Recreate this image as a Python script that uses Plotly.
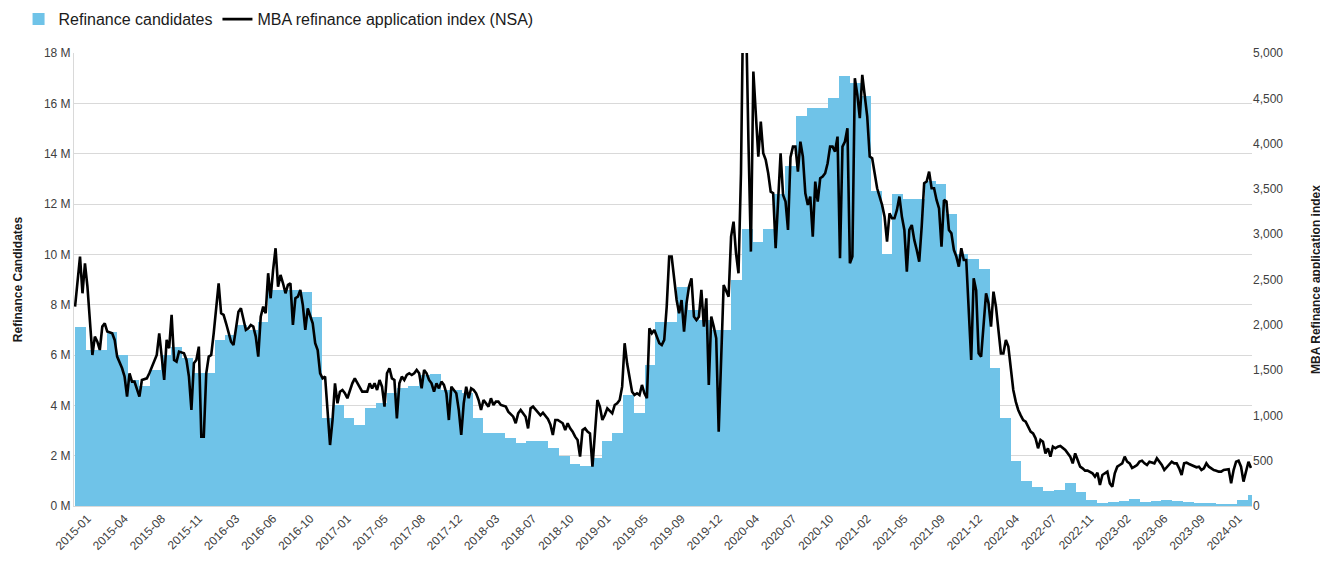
import datetime as dt
import pandas as pd
import plotly.graph_objects as go

# ---------------- data ----------------
# Refinance candidates, millions, monthly (Jan 2015 .. Feb 2024)
candidate_start = "2015-01-01"
candidates_m = [
    7.1, 6.2, 6.2, 6.9, 6.0, 5.0, 4.75, 5.4, 6.0, 6.3, 5.9, 5.3,      # 2015
    5.3, 6.6, 6.8, 7.2, 7.0, 7.3, 8.6, 8.6, 8.6, 8.5, 7.5, 3.5,       # 2016
    4.0, 3.5, 3.2, 3.9, 4.1, 4.5, 4.7, 4.75, 5.2, 5.25, 4.6, 4.6,     # 2017
    4.5, 3.5, 2.9, 2.9, 2.7, 2.5, 2.6, 2.6, 2.3, 2.0, 1.65, 1.6,      # 2018
    1.9, 2.6, 2.9, 4.4, 3.7, 5.6, 7.3, 7.3, 8.7, 7.8, 7.4, 7.0,       # 2019
    7.0, 9.0, 11.0, 10.5, 11.0, 12.4, 13.5, 15.5, 15.8, 15.8, 16.2, 17.1,  # 2020
    16.8, 16.3, 12.5, 10.0, 12.4, 12.2, 12.2, 12.9, 12.8, 11.6, 10.0, 9.8,  # 2021
    9.4, 5.5, 3.5, 1.8, 1.0, 0.75, 0.6, 0.64, 0.9, 0.55, 0.25, 0.12,  # 2022
    0.17, 0.18, 0.26, 0.15, 0.2, 0.24, 0.2, 0.17, 0.12, 0.1, 0.07, 0.07,  # 2023
    0.25, 0.45,                                                       # 2024
]

# MBA refinance application index (NSA), weekly: (week number since 2015-01-02, index)
mba_start = dt.date(2015, 1, 2)
mba_readings = [
    (0, 2200), (2, 2753), (3, 2348), (4, 2679), (5, 2421), (6, 2017), (7, 1667), (8, 1870),
    (9, 1814), (10, 1722), (11, 1980), (12, 2017), (13, 1925), (15, 1906), (16, 1833), (17, 1649),
    (18, 1593), (19, 1520), (20, 1428), (21, 1207), (22, 1465), (23, 1373), (24, 1373), (25, 1299),
    (26, 1207), (27, 1391), (29, 1409), (30, 1465), (31, 1538), (32, 1612), (33, 1667), (34, 1906),
    (35, 1612), (36, 1391), (37, 1833), (38, 1741), (39, 2109), (40, 1612), (41, 1593), (42, 1704),
    (44, 1685), (45, 1612), (46, 1428), (47, 1060), (48, 1575), (49, 1612), (50, 1759), (51, 765),
    (52, 765), (53, 1465), (54, 1649), (55, 1667), (56, 1906), (57, 2200), (58, 2458), (59, 2127),
    (60, 2109), (61, 2017), (62, 1906), (63, 1814), (64, 1777), (65, 1943), (66, 2145), (67, 2182),
    (68, 2053), (69, 1943), (70, 1961), (71, 1998), (72, 1980), (73, 1870), (74, 1649), (75, 2090),
    (76, 2200), (77, 2127), (78, 2569), (79, 2293), (80, 2605), (81, 2845), (82, 2421), (83, 2550),
    (84, 2458), (85, 2348), (86, 2440), (87, 2458), (88, 1998), (89, 2293), (90, 2311), (91, 2385),
    (92, 2219), (93, 1943), (94, 2180), (95, 2090), (96, 2017), (97, 1796), (98, 1722), (99, 1465),
    (100, 1409), (101, 1428), (102, 1097), (103, 673), (104, 949), (105, 1354), (106, 1133), (107, 1262),
    (108, 1281), (109, 1244), (110, 1189), (112, 1354), (113, 1409), (114, 1354), (115, 1299), (116, 1262),
    (118, 1262), (119, 1354), (120, 1299), (121, 1354), (122, 1281), (123, 1391), (124, 1317), (125, 1097),
    (126, 1465), (127, 1520), (128, 1409), (129, 1391), (130, 968), (131, 1354), (132, 1428), (133, 1391),
    (134, 1446), (135, 1465), (136, 1446), (137, 1465), (138, 1502), (139, 1465), (140, 1299), (141, 1502),
    (142, 1465), (143, 1391), (144, 1354), (145, 1262), (146, 1354), (147, 1299), (148, 1373), (149, 1336),
    (150, 1244), (151, 949), (152, 1317), (153, 1281), (154, 1244), (155, 1060), (156, 784), (157, 1133),
    (158, 1317), (159, 1189), (160, 1299), (161, 1281), (162, 1244), (163, 1170), (164, 1060), (165, 1170),
    (166, 1133), (167, 1097), (168, 1189), (169, 1115), (170, 1152), (171, 1152), (172, 1115), (174, 1097),
    (175, 1041), (177, 986), (178, 913), (179, 1023), (180, 1060), (181, 1023), (182, 986), (183, 857),
    (184, 1078), (185, 1097), (186, 1060), (187, 1023), (188, 1000), (189, 1030), (190, 990), (191, 960),
    (192, 900), (193, 784), (194, 949), (195, 949), (197, 913), (198, 839), (199, 913), (200, 857),
    (201, 821), (202, 765), (203, 729), (204, 545), (205, 839), (206, 857), (207, 821), (208, 802),
    (209, 434), (210, 802), (211, 1170), (212, 1097), (213, 949), (214, 1005), (215, 1078), (217, 1023),
    (218, 1115), (219, 1133), (220, 1170), (221, 1317), (222, 1796), (223, 1575), (224, 1428), (225, 1262),
    (226, 1225), (227, 1244), (228, 1225), (229, 1336), (230, 1244), (231, 1189), (232, 1961), (233, 1906),
    (234, 1943), (235, 1870), (236, 1796), (237, 1777), (238, 1833), (239, 2200), (240, 2753), (241, 2753),
    (242, 2495), (243, 2274), (244, 2127), (245, 2274), (246, 1925), (247, 2237), (248, 2421), (249, 2513),
    (250, 2090), (251, 2053), (252, 2090), (253, 2385), (254, 1980), (255, 2293), (256, 1336), (257, 2090),
    (258, 1980), (259, 1851), (260, 821), (261, 1538), (262, 2440), (264, 2311), (265, 2973), (266, 3139),
    (267, 2789), (268, 2569), (269, 3673), (270, 5800), (271, 5500), (272, 4040), (273, 2808), (274, 4795),
    (275, 4335), (276, 3857), (277, 4243), (278, 3893), (279, 3820), (280, 3673), (281, 3470), (282, 3452),
    (283, 2845), (284, 3415), (285, 3893), (286, 3433), (287, 3360), (288, 3047), (289, 3850), (290, 3967),
    (291, 3967), (292, 3691), (293, 4022), (294, 3857), (295, 3452), (296, 3323), (297, 3415), (298, 2973),
    (299, 3581), (300, 3360), (301, 3617), (302, 3636), (303, 3673), (304, 3783), (305, 3967), (306, 3967),
    (307, 3912), (308, 4077), (309, 2734), (310, 3967), (311, 4022), (312, 4169), (313, 2679), (314, 2753),
    (315, 4721), (316, 4537), (317, 4280), (318, 4758), (319, 4519), (320, 4298), (321, 3857), (322, 3838),
    (323, 3673), (324, 3507), (326, 3323), (327, 3194), (328, 2918), (329, 3231), (330, 3176), (331, 3176),
    (332, 3268), (333, 3415), (334, 3194), (335, 3047), (336, 2587), (337, 3047), (338, 3102), (339, 2937),
    (340, 2826), (341, 2697), (342, 3084), (343, 3562), (344, 3581), (345, 3691), (346, 3507), (347, 3507),
    (348, 3378), (349, 3286), (350, 2863), (351, 3378), (352, 3360), (353, 3047), (354, 3010), (355, 2826),
    (356, 2753), (357, 2642), (358, 2845), (359, 2716), (360, 2716), (362, 1612), (363, 2513), (364, 2380),
    (365, 1685), (366, 1649), (368, 2348), (369, 2237), (370, 1980), (371, 2366), (372, 2200), (373, 1943),
    (374, 1685), (375, 1685), (376, 1833), (377, 1759), (378, 1502), (379, 1281), (380, 1152), (381, 1060),
    (382, 1000), (383, 949), (384, 931), (385, 880), (386, 821), (387, 802), (388, 747), (389, 637),
    (390, 729), (391, 710), (392, 581), (393, 637), (394, 545), (395, 655), (396, 637), (397, 655),
    (398, 662), (400, 618), (401, 581), (402, 545), (403, 471), (404, 581), (405, 508), (406, 434),
    (407, 416), (408, 390), (409, 390), (410, 379), (411, 361), (412, 324), (413, 368), (414, 232),
    (415, 342), (416, 361), (417, 379), (418, 250), (419, 213), (420, 361), (421, 434), (422, 453),
    (423, 471), (424, 545), (425, 489), (426, 471), (427, 420), (428, 434), (429, 453), (430, 490),
    (431, 500), (432, 471), (433, 453), (434, 489), (436, 471), (437, 526), (438, 489), (439, 453),
    (440, 397), (442, 453), (443, 489), (444, 471), (445, 471), (446, 416), (447, 342), (448, 471),
    (449, 478), (450, 464), (451, 453), (452, 442), (453, 427), (454, 434), (455, 397), (456, 416),
    (457, 471), (458, 434), (459, 416), (460, 397), (461, 390), (462, 379), (463, 379), (464, 397),
    (466, 405), (467, 250), (468, 397), (469, 489), (470, 500), (471, 434), (472, 269), (473, 397),
    (474, 489), (475, 420),
]
mba_week = [w for w, _ in mba_readings]
mba_index = [v for _, v in mba_readings]

# x-axis tick labels (one every 15 weeks, from week 5)
tick_labels = [
    "2015-01", "2015-04", "2015-08", "2015-11", "2016-03", "2016-06", "2016-10", "2017-01",
    "2017-05", "2017-08", "2017-12", "2018-03", "2018-07", "2018-10", "2019-01", "2019-05",
    "2019-09", "2019-12", "2020-04", "2020-07", "2020-10", "2021-02", "2021-05", "2021-09",
    "2021-12", "2022-04", "2022-07", "2022-11", "2023-02", "2023-06", "2023-09", "2024-01",
]
first_tick_week = 5
tick_step_weeks = 15

# ---------------- derived ----------------
month_starts = pd.date_range(candidate_start, periods=len(candidates_m), freq="MS")
month_widths = [
    ((m + pd.offsets.MonthBegin(1)) - m).total_seconds() * 1000 for m in month_starts
]
mba_dates = [mba_start + dt.timedelta(weeks=w) for w in mba_week]
tick_vals = [mba_start + dt.timedelta(weeks=first_tick_week + tick_step_weeks * k)
             for k in range(len(tick_labels))]
x_min = mba_start - dt.timedelta(days=3.5)
x_max = mba_start + dt.timedelta(weeks=max(mba_week), days=3.5)

FONT = "Liberation Sans, Arial, sans-serif"
BLUE = "#6fc3e8"

fig = go.Figure()
fig.add_trace(go.Bar(
    x=month_starts, y=candidates_m, width=month_widths, offset=0,
    marker=dict(color=BLUE, line=dict(width=0)),
    name="Refinance candidates",
    hovertemplate="%{x|%Y-%m}: %{y:.2f} M<extra></extra>",
))
fig.add_trace(go.Scatter(
    x=mba_dates, y=mba_index, yaxis="y2", mode="lines",
    line=dict(color="black", width=2.6),
    name="MBA refinance application index (NSA)",
    hovertemplate="%{x|%Y-%m-%d}: %{y:,.0f}<extra></extra>",
))

# the page body adds an 8 px margin; size the figure so it fits the window exactly
fig.update_layout(
    width=1320, height=559,
    margin=dict(l=66, r=76, t=45, b=61, autoexpand=False),
    paper_bgcolor="white", plot_bgcolor="white",
    font=dict(family=FONT, size=12, color="#404040"),
    bargap=0,
    showlegend=True,
    legend=dict(
        orientation="h", xref="container", yref="container",
        x=0.008, y=0.980, xanchor="left", yanchor="middle",
        font=dict(size=16, color="#1a1a1a"),
        itemwidth=30, tracegroupgap=0,
    ),
    xaxis=dict(
        type="date", range=[x_min, x_max],
        tickmode="array", tickvals=tick_vals, ticktext=tick_labels,
        tickangle=-45, tickfont=dict(size=12, color="#404040"),
        showgrid=False, showline=True, linecolor="#d9d9d9", linewidth=1,
        ticks="", automargin=False,
    ),
    yaxis=dict(
        range=[0, 18], dtick=2, ticksuffix=" M",
        showgrid=True, gridcolor="#d9d9d9", gridwidth=1,
        zeroline=False, showline=True, linecolor="#d9d9d9",
        tickfont=dict(size=12, color="#404040"),
        title=dict(text="<b>Refinance Candidates</b>", font=dict(size=12, color="#1a1a1a"), standoff=18),
        automargin=False,
    ),
    yaxis2=dict(
        overlaying="y", side="right", range=[0, 5000], dtick=500,
        tickformat=",", showgrid=False, zeroline=False,
        tickfont=dict(size=12, color="#404040"),
        title=dict(text="<b>MBA Refinance application index</b>", font=dict(size=12, color="#1a1a1a"), standoff=29),
        automargin=False,
    ),
)

fig.write_html("out.html")
